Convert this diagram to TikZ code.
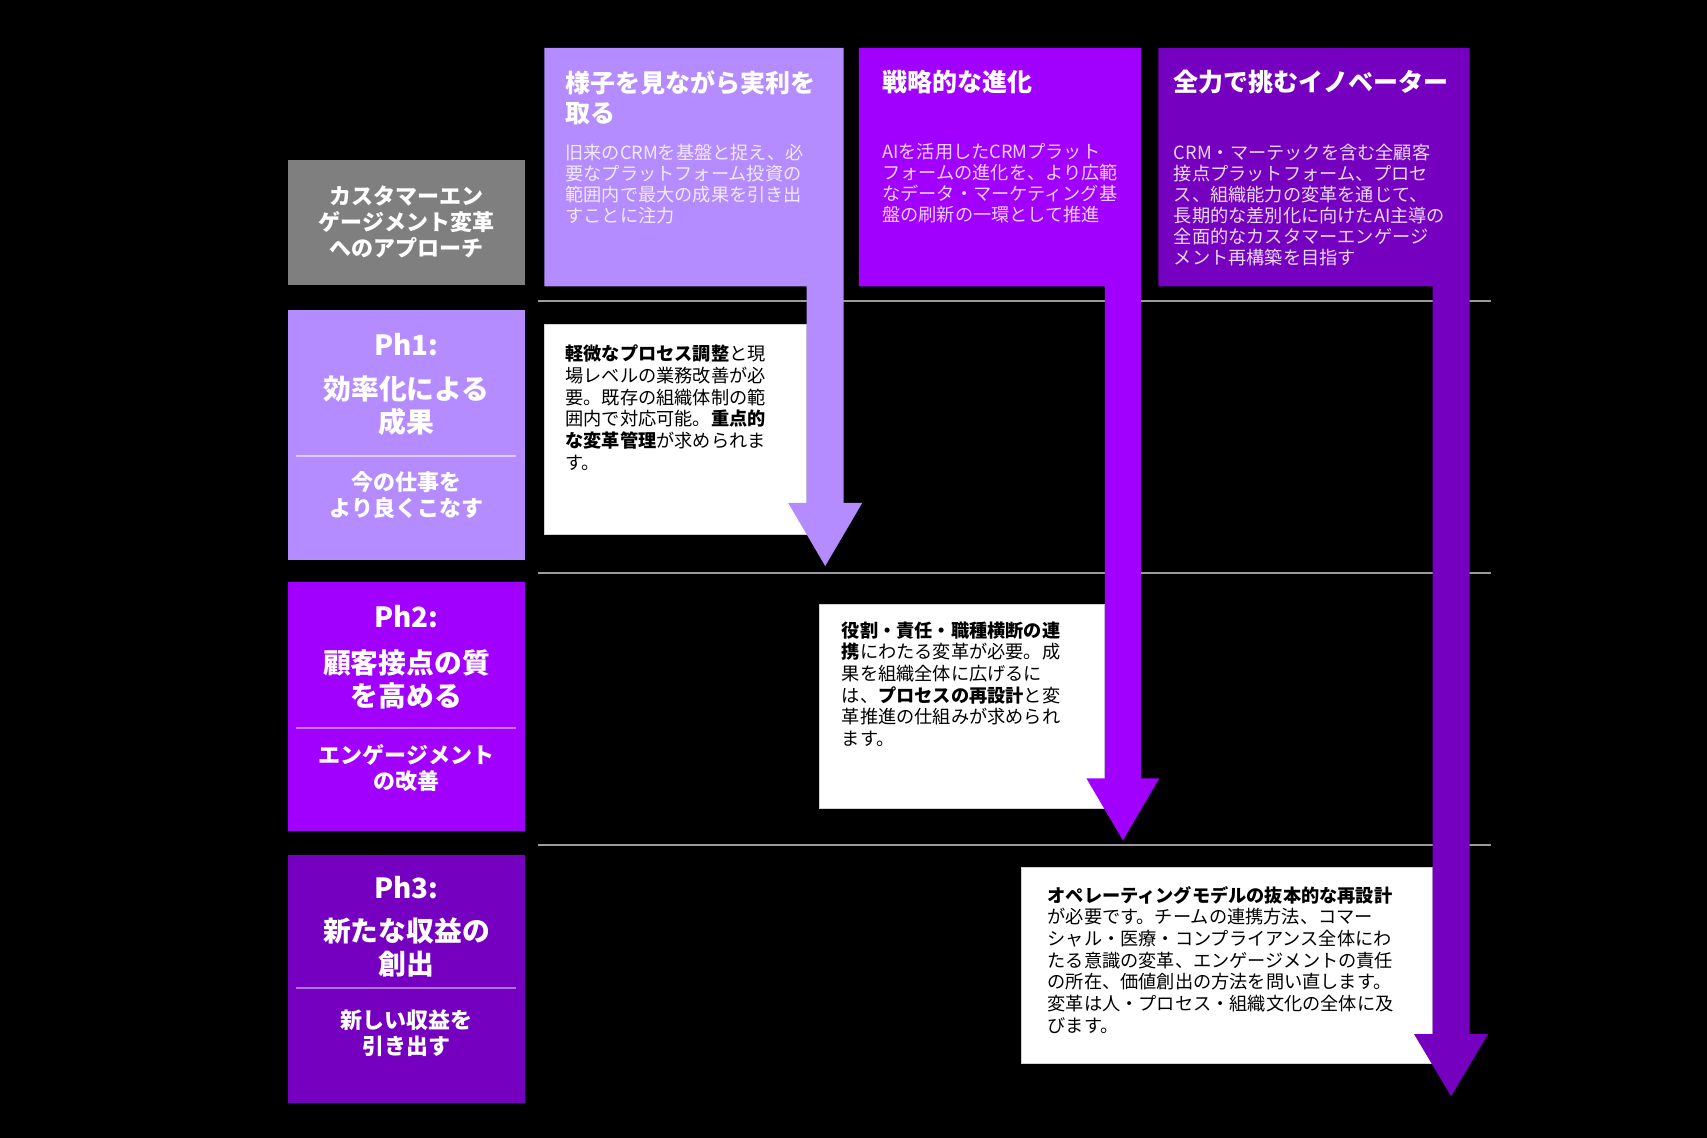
\documentclass[tikz,border=0pt]{standalone}
\usepackage{fontspec}
\setmainfont{Noto Sans CJK JP}
\definecolor{pA}{HTML}{B48CFF}
\definecolor{pB}{HTML}{A100FF}
\definecolor{pC}{HTML}{7500C0}
\definecolor{grayhead}{HTML}{7F7F7F}
\definecolor{sepline}{HTML}{9A9A9A}
\tikzset{
  sepl/.style={draw=sepline, line width=1pt},
  htitle/.style={anchor=north west, inner sep=0pt, align=left, text=white, font=\fontsize{12.5}{15.25}\selectfont\bfseries},
  hbody/.style={anchor=north west, inner sep=0pt, align=left, font=\fontsize{9.1}{10.5}\selectfont},
  wbox/.style={fill=white, draw=gray!35, line width=0.5pt},
  wtext/.style={anchor=north west, inner sep=0pt, align=left, text=black, font=\fontsize{9.1}{10.85}\selectfont},
  phnum/.style={anchor=base, inner sep=0pt, text=white, font=\fontsize{13.9}{16.9}\selectfont\bfseries},
  phhead/.style={anchor=north, inner sep=0pt, align=center, text=white, font=\fontsize{13.9}{16.9}\selectfont\bfseries},
  phsub/.style={anchor=north, inner sep=0pt, align=center, text=white, font=\fontsize{11}{13}\selectfont\bfseries},
  phdiv/.style={line width=0.8pt},
}
\begin{document}
\begin{tikzpicture}[x=0.5pt,y=-0.5pt]
\useasboundingbox (0,0) rectangle (1707,1138);
\fill[black] (0,0) rectangle (1707,1138);

% separator lines
\draw[sepl] (538,301.5) -- (1491,301.5);
\draw[sepl] (538,572.6) -- (1491,572.6);
\draw[sepl] (538,844.7) -- (1491,844.7);

% white boxes
\draw[wbox] (544.3,324.4) rectangle (806.7,534.5);
\draw[wbox] (819.7,604.2) rectangle (1104.9,808.8);
\draw[wbox] (1021.1,867.6) rectangle (1432.6,1063.6);

% column headers with arrows
\fill[pA] (544.3,47.9) -- (843.7,47.9) -- (843.7,503) -- (862.2,503) -- (825.2,566)
  -- (788.2,503) -- (806.7,503) -- (806.7,286.3) -- (544.3,286.3) -- cycle;
\fill[pB] (858.9,47.9) -- (1140.8,47.9) -- (1140.8,778.3) -- (1159.3,778.3) -- (1122.9,840.4)
  -- (1086.4,778.3) -- (1104.9,778.3) -- (1104.9,286.3) -- (858.9,286.3) -- cycle;
\fill[pC] (1158.3,47.9) -- (1469.6,47.9) -- (1469.6,1034.2) -- (1488.1,1034.2) -- (1451.1,1096.2)
  -- (1414.1,1034.2) -- (1432.6,1034.2) -- (1432.6,286.3) -- (1158.3,286.3) -- cycle;

% left column boxes
\fill[grayhead] (288,160) rectangle (525,285);
\fill[pA] (288,310) rectangle (525,560);
\fill[pB] (288,582) rectangle (525,831);
\fill[pC] (288,855) rectangle (525,1103);
\draw[phdiv, draw=white!55!pA] (296,456) -- (516,456);
\draw[phdiv, draw=white!45!pB] (296,728) -- (516,728);
\draw[phdiv, draw=white!45!pC] (296,988) -- (516,988);

% gray header text
\node[phsub, font=\fontsize{11}{13}\selectfont\bfseries] (ghead) at (406.5,185) {カスタマーエン\\ゲージメント変革\\へのアプローチ};

% column header texts
\node[htitle] (t1) at (565,70) {様子を見ながら実利を\\取る};
\node[hbody, text=white!82!pA] (b1) at (565,143.3) {旧来のCRMを基盤と捉え、必\\要なプラットフォーム投資の\\範囲内で最大の成果を引き出\\すことに注力};
\node[htitle] (t2) at (881.8,70) {戦略的な進化};
\node[hbody, text=white!82!pB] (b2) at (881.8,143.3) {AIを活用したCRMプラット\\フォームの進化を、より広範\\なデータ・マーケティング基\\盤の刷新の一環として推進};
\node[htitle] (t3) at (1173.5,70) {全力で挑むイノベーター};
\node[hbody, text=white!85!pC] (b3) at (1173.5,143.3) {CRM・マーテックを含む全顧客\\接点プラットフォーム、プロセ\\ス、組織能力の変革を通じて、\\長期的な差別化に向けたAI主導の\\全面的なカスタマーエンゲージ\\メント再構築を目指す};

% phase texts
\node[phnum] (n1) at (406.5,356) {Ph1:};
\node[phhead] (h1) at (406.5,375) {効率化による\\成果};
\node[phsub] (s1) at (406.5,471) {今の仕事を\\より良くこなす};
\node[phnum] (n2) at (406.5,627) {Ph2:};
\node[phhead] (h2) at (406.5,649) {顧客接点の質\\を高める};
\node[phsub] (s2) at (406.5,744) {エンゲージメント\\の改善};
\node[phnum] (n3) at (406.5,898) {Ph3:};
\node[phhead] (h3) at (406.5,917) {新たな収益の\\創出};
\node[phsub] (s3) at (406.5,1009) {新しい収益を\\引き出す};

% white box texts
\node[wtext] (w1) at (565,344.7) {\textbf{軽微なプロセス調整}と現\\場レベルの業務改善が必\\要。既存の組織体制の範\\囲内で対応可能。\textbf{重点的}\\\textbf{な変革管理}が求められま\\す。};
\node[wtext] (w2) at (841.5,621.2) {\textbf{役割・責任・職種横断の連}\\\textbf{携}にわたる変革が必要。成\\果を組織全体に広げるに\\は、\textbf{プロセスの再設計}と変\\革推進の仕組みが求められ\\ます。};
\node[wtext] (w3) at (1047.2,885.7) {\textbf{オペレーティングモデルの抜本的な再設計}\\が必要です。チームの連携方法、コマー\\シャル・医療・コンプライアンス全体にわ\\たる意識の変革、エンゲージメントの責任\\の所在、価値創出の方法を問い直します。\\変革は人・プロセス・組織文化の全体に及\\びます。};
\end{tikzpicture}
\end{document}
